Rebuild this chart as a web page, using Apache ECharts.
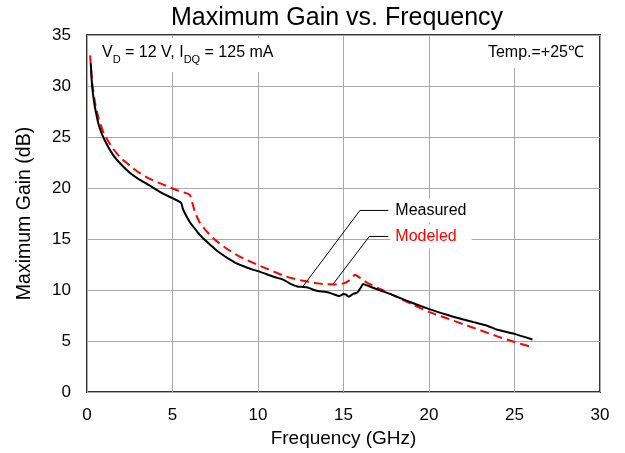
<!DOCTYPE html>
<html>
<head>
<meta charset="utf-8">
<script src="https://cdn.jsdelivr.net/npm/echarts@6/dist/echarts.min.js"></script>
<style>
  html, body { margin: 0; padding: 0; background: #fff; }
  #main { width: 625px; height: 453px; }
</style>
</head>
<body>
<div id="main"></div>
<script>
// measured gain [GHz, dB]
var measured = [
  [0.22, 32.2], [0.3, 30.0], [0.4, 28.6], [0.5, 27.6], [0.7, 26.1], [1.0, 24.8],
  [1.5, 23.3], [2.0, 22.3], [2.5, 21.5], [3.0, 20.9], [3.5, 20.4], [4.0, 19.9],
  [4.5, 19.4], [5.0, 19.0], [5.5, 18.55], [5.6, 18.0], [5.73, 17.5], [6.0, 16.7],
  [6.22, 16.2], [6.5, 15.6], [6.8, 15.05], [7.0, 14.75], [7.5, 14.0], [7.8, 13.6],
  [8.2, 13.15], [8.75, 12.6], [9.2, 12.3], [9.6, 12.05], [10.0, 11.85], [10.5, 11.55],
  [11.0, 11.25], [11.5, 11.0], [11.9, 10.6], [12.3, 10.35], [12.6, 10.3], [12.9, 10.25],
  [13.2, 10.05], [13.5, 9.9], [14.0, 9.8], [14.4, 9.6], [14.75, 9.4], [15.0, 9.6],
  [15.15, 9.55], [15.3, 9.35], [15.55, 9.6], [15.8, 9.75], [16.0, 10.2], [16.15, 10.6],
  [16.3, 10.5], [17.0, 10.05], [17.9, 9.5], [19.0, 8.75], [20.06, 8.1], [21.0, 7.6],
  [21.8, 7.2], [22.6, 6.85], [23.4, 6.5], [24.0, 6.1], [25.0, 5.7], [26.05, 5.15]
];
// modeled gain [GHz, dB]
var modeled = [
  [0.18, 33.0], [0.3, 30.4], [0.4, 29.1], [0.5, 28.1], [0.7, 26.7], [1.0, 25.3],
  [1.5, 23.9], [2.0, 22.9], [2.5, 22.2], [3.0, 21.55], [3.5, 21.05], [4.0, 20.65],
  [4.5, 20.3], [5.0, 19.95], [5.5, 19.65], [6.0, 19.35], [6.15, 18.6], [6.32, 17.6],
  [6.6, 16.6], [7.0, 15.75], [7.5, 14.9], [8.26, 13.95], [8.8, 13.4], [9.4, 12.9],
  [10.0, 12.45], [10.5, 12.1], [11.0, 11.75], [11.5, 11.4], [12.0, 11.15], [12.5, 10.95],
  [13.0, 10.8], [13.5, 10.65], [14.0, 10.57], [14.5, 10.55], [15.0, 10.65], [15.3, 10.9],
  [15.5, 11.2], [15.67, 11.5], [16.0, 11.15], [16.45, 10.65], [17.33, 9.95], [18.0, 9.4],
  [19.0, 8.6], [20.0, 7.85], [21.0, 7.25], [22.0, 6.65], [23.0, 6.05], [24.0, 5.45],
  [25.0, 4.9], [26.05, 4.4]
];
// annotation leader lines (data coords)
var measuredLeader = [[12.65, 10.4], [15.96, 17.8], [17.62, 17.8]];
var modeledLeader = [[14.4, 10.6], [16.51, 15.25], [17.62, 15.25]];

var xTicks = [0, 5, 10, 15, 20, 25, 30];
var yTicks = [0, 5, 10, 15, 20, 25, 30, 35];

var font = 'Liberation Sans, Arial, Helvetica, sans-serif';
var chart = echarts.init(document.getElementById('main'));

function leader(pts, text, color, pad) {
  return {
    type: 'line', data: pts, symbol: 'none', z: 5,
    lineStyle: { color: '#000', width: 1 },
    endLabel: {
      show: true, distance: 2, formatter: text, color: color,
      fontSize: 16, fontFamily: font, lineHeight: 16,
      backgroundColor: '#fff', padding: pad
    }
  };
}

chart.setOption({
  backgroundColor: '#fff',
  animation: false,
  title: [{
    text: 'Maximum Gain vs. Frequency',
    left: 171, top: 6, padding: 0,
    textStyle: { fontFamily: font, fontSize: 25, fontWeight: 'normal', color: '#000' }
  }, {
    text: '{b|V}{s|D}{b| = 12 V, I}{s|DQ}{b| = 125 mA}',
    left: 96, top: 37, padding: [7, 20, 7, 6],
    backgroundColor: '#fff',
    textStyle: {
      rich: {
        b: { fontFamily: font, fontSize: 16, fontWeight: 'normal', color: '#000', lineHeight: 17, verticalAlign: 'bottom' },
        s: { fontFamily: font, fontSize: 11, fontWeight: 'normal', color: '#000', lineHeight: 17, verticalAlign: 'bottom', padding: [0, 0, -4, 0] }
      }
    }
  }, {
    text: 'Temp.=+25℃',
    right: 27, top: 37, padding: [8, 14, 7, 8],
    backgroundColor: '#fff',
    textStyle: { fontFamily: font, fontSize: 16, fontWeight: 'normal', color: '#000' }
  }],
  grid: {
    left: 87, right: 25, top: 35, bottom: 61,
    show: true, borderColor: '#333', borderWidth: 2, backgroundColor: 'transparent'
  },
  xAxis: {
    type: 'value', min: xTicks[0], max: xTicks[xTicks.length - 1], interval: 5,
    name: 'Frequency (GHz)', nameLocation: 'middle', nameGap: 36,
    nameTextStyle: { fontFamily: font, fontSize: 19, color: '#000' },
    axisLine: { show: false },
    axisTick: { show: false },
    axisLabel: { fontFamily: font, fontSize: 17, color: '#000', margin: 15 },
    splitLine: { show: true, lineStyle: { color: '#a8a8a8', width: 1 } }
  },
  yAxis: {
    type: 'value', min: yTicks[0], max: yTicks[yTicks.length - 1], interval: 5,
    name: 'Maximum Gain (dB)', nameLocation: 'middle', nameGap: 52,
    nameTextStyle: { fontFamily: font, fontSize: 19.5, color: '#000' },
    axisLine: { show: false },
    axisTick: { show: false },
    axisLabel: { fontFamily: font, fontSize: 17, color: '#000', margin: 16 },
    splitLine: { show: true, lineStyle: { color: '#a8a8a8', width: 1 } }
  },
  series: [{
    name: 'Modeled', type: 'line', data: modeled, showSymbol: false, smooth: 0.2,
    lineStyle: { color: '#ff0000', width: 2, type: [9, 5] }, z: 3
  }, {
    name: 'Measured', type: 'line', data: measured, showSymbol: false, smooth: 0.2,
    lineStyle: { color: '#000', width: 2 }, z: 4
  },
    leader(measuredLeader, 'Measured', '#000', [7, 12, 1, 5]),
    leader(modeledLeader, 'Modeled', '#ff0000', [1, 15, 7, 5])
  ]
});
</script>
</body>
</html>
